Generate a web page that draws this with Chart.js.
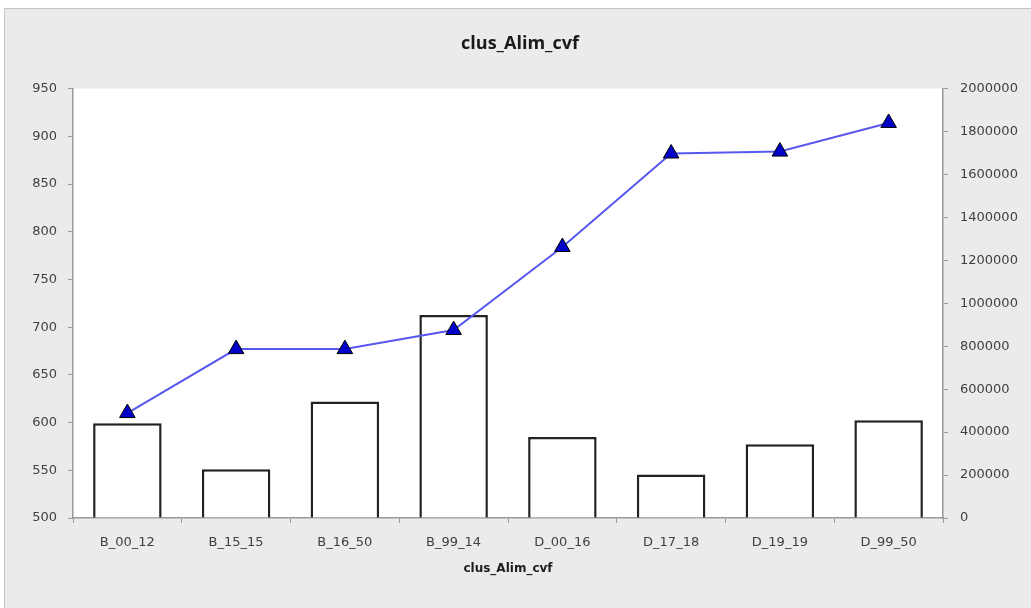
<!DOCTYPE html>
<html>
<head>
<meta charset="utf-8">
<script src="https://cdn.jsdelivr.net/npm/chart.js@4/dist/chart.umd.min.js"></script>
<style>
  html, body { margin: 0; padding: 0; background: #fff; overflow: hidden; }
  #frame {
    position: absolute; left: 4px; top: 8px;
    width: 1030px; height: 600px;
    background: #ebebeb;
    border-left: 1px solid #c4c4c4; border-top: 1px solid #c4c4c4;
  }
</style>
</head>
<body>
<div id="frame"><canvas id="myChart"></canvas></div>
<script>
const clusters = ['B_00_12', 'B_15_15', 'B_16_50', 'B_99_14', 'D_00_16', 'D_17_18', 'D_19_19', 'D_99_50']
// bars, right axis
const volumes = [441000, 227000, 543000, 946000, 377000, 203000, 343000, 455000]
// line, left axis
const means = [610, 677, 677, 697, 784, 882, 884, 914]

const tickFont = { family: "'DejaVu Sans', Verdana, sans-serif", size: 13 }
const titleFamily = "'Liberation Sans Narrow', 'Open Sans', Arial, sans-serif"

const plotBg = {
	id: 'plotBg',
	beforeDraw(chart) {
		const { ctx, chartArea: a } = chart
		ctx.save()
		ctx.fillStyle = '#ffffff'
		ctx.fillRect(a.left, a.top, a.right - a.left, a.bottom - a.top)
		ctx.restore()
	}
}

function draw() {
	const ctx = document.getElementById('myChart').getContext('2d')
	new Chart(ctx, {
		data: {
			labels: clusters,
			datasets: [{
				type: 'line',
				label: 'mean',
				data: means,
				yAxisID: 'y',
				borderColor: 'rgb(88, 88, 240)',
				borderWidth: 2,
				tension: 0,
				pointStyle: 'triangle',
				pointRadius: 9,
				pointBackgroundColor: '#0000c8',
				pointBorderColor: '#000000',
				pointBorderWidth: 1,
				order: 0
			}, {
				type: 'bar',
				label: 'volume',
				data: volumes,
				yAxisID: 'y1',
				backgroundColor: '#ffffff',
				borderColor: '#222222',
				borderWidth: 2.5,
				categoryPercentage: 1,
				barPercentage: 0.63,
				order: 1
			}]
		},
		options: {
			responsive: false,
			animation: false,
			layout: { padding: 0 },
			plugins: {
				legend: { display: false },
				tooltip: { enabled: false },
				title: {
					display: true,
					text: 'clus_Alim_cvf',
					color: '#1a1a1a',
					font: { family: titleFamily, size: 18, weight: 'bold', lineHeight: 1.2 },
					padding: { top: 24, bottom: 34 }
				}
			},
			scales: {
				x: {
					offset: true,
					grid: { offset: true, drawOnChartArea: false, tickLength: 5, color: '#999', tickColor: '#999' },
					border: { color: '#999', width: 1.5 },
					ticks: { color: '#404040', font: tickFont, padding: 12, maxRotation: 0 },
					title: {
						display: true,
						text: 'clus_Alim_cvf',
						color: '#202020',
						font: { family: tickFont.family, size: 12, weight: 'bold', lineHeight: 1.2 },
						padding: { top: 0, bottom: 33 }
					},
					afterFit(scale) { scale.height = 91 }
				},
				y: {
					position: 'left',
					min: 500, max: 950,
					ticks: { stepSize: 50, color: '#404040', font: tickFont, padding: 11 },
					grid: { drawOnChartArea: false, tickLength: 5, color: '#999', tickColor: '#999' },
					border: { color: '#999', width: 1.5 },
					afterFit(scale) { scale.width = 68 }
				},
				y1: {
					position: 'right',
					min: 0, max: 2000000,
					ticks: { stepSize: 200000, color: '#404040', font: tickFont, padding: 12,
						callback: v => String(v) },
					grid: { drawOnChartArea: false, tickLength: 5, color: '#999', tickColor: '#999' },
					border: { color: '#999', width: 1.5 },
					afterFit(scale) { scale.width = 92 }
				}
			}
		},
		plugins: [plotBg]
	})
}

window.onload = () => {
	const c = document.getElementById('myChart')
	c.width = 1030
	c.height = 600
	draw()
}
</script>
</body>
</html>
